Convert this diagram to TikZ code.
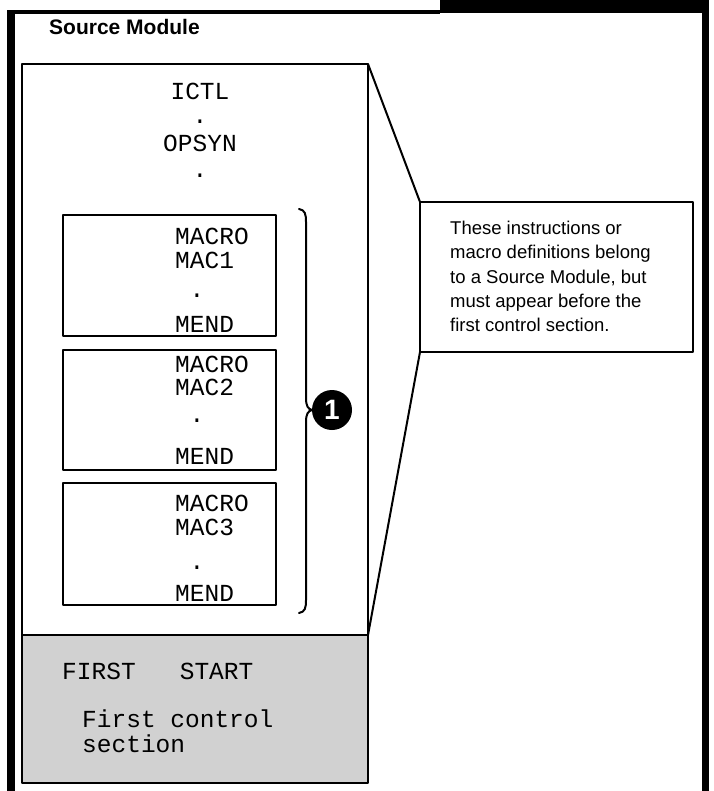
\documentclass[tikz,border=0pt]{standalone}
\usepackage{fontspec}
\setmainfont{Liberation Sans}
\setmonofont{Liberation Mono}
\begin{document}
\begin{tikzpicture}[x=1pt,y=-1pt,line cap=round,line join=round,
  box/.style={draw,line width=2pt,inner sep=0pt,outer sep=0pt,anchor=north west},
  code/.style={font=\ttfamily\fontsize{24.5}{29}\selectfont,inner sep=0pt},
  prose/.style={font=\fontsize{18.5}{24.2}\selectfont,inner sep=0pt,align=left}]

\useasboundingbox (0,0) rectangle (713,791);

% outer frame
\fill (7,10) rectangle (15,791);
\fill (7,10) rectangle (440,14);
\fill (440,0) rectangle (709,13);
\fill (702,0) rectangle (709,791);

\node[font=\bfseries\fontsize{21}{25}\selectfont,inner sep=0pt,anchor=base west]
  (title) at (49,35) {Source Module};

% source module (white part) and first control section (shaded)
\node[box,line width=2.5pt,minimum width=346pt,minimum height=571pt] (srcbox) at (22,64) {};
\node[box,line width=2.5pt,fill=black!18,minimum width=346pt,minimum height=148pt] (ctlsec) at (22,635) {};

% instructions ahead of the macros
\node[code,anchor=base] (ictl) at (200,100) {ICTL};
\node[code,anchor=base] (dota) at (200,124) {.};
\node[code,anchor=base] (opsyn) at (200,152) {OPSYN};
\node[code,anchor=base] (dotb) at (200,178) {.};

% macro definitions
\node[box,minimum width=213pt,minimum height=121pt] (mac1) at (63,215) {};
\node[box,minimum width=213pt,minimum height=120pt] (mac2) at (63,350) {};
\node[box,minimum width=213pt,minimum height=122pt] (mac3) at (63,483) {};

\node[code,anchor=base west] (m1a) at (175,244) {MACRO};
\node[code,anchor=base west] (m1b) at (175,269) {MAC1};
\node[code,anchor=base] (m1c) at (197,297) {.};
\node[code,anchor=base west] (m1d) at (175,332) {MEND};

\node[code,anchor=base west] (m2a) at (175,372) {MACRO};
\node[code,anchor=base west] (m2b) at (175,395) {MAC2};
\node[code,anchor=base] (m2c) at (197,422) {.};
\node[code,anchor=base west] (m2d) at (175,464) {MEND};

\node[code,anchor=base west] (m3a) at (175,511) {MACRO};
\node[code,anchor=base west] (m3b) at (175,535) {MAC3};
\node[code,anchor=base] (m3c) at (197,569) {.};
\node[code,anchor=base west] (m3d) at (175,601) {MEND};

% brace round the macros
\draw[line width=2pt] (299,209) .. controls (305,210) and (306,214) .. (306,222)
  -- (306,398) .. controls (306,406) and (308,409) .. (312,410)
  .. controls (308,411) and (306,414) .. (306,422)
  -- (306,600) .. controls (306,608) and (305,612) .. (299,613);
\node[circle,fill,minimum size=40pt,inner sep=0pt,text=white,
  font=\bfseries\fontsize{28}{28}\selectfont] (one) at (332,410) {1};

% first control section
\node[code,anchor=base west] (first) at (62,679) {FIRST\ \ \ START};
\node[code,anchor=base west] (fcs) at (82,727) {First control};
\node[code,anchor=base west] (sec) at (82,752) {section};

% note
\node[box,minimum width=273pt,minimum height=150pt] (note) at (420,202) {};
\node[prose,anchor=north west] (notetext) at (450,221) {These instructions or\\
macro definitions belong\\to a Source Module, but\\must appear before the\\
first control section.};

\draw[line width=2pt] (srcbox.north east) -- (note.north west);
\draw[line width=2pt] (note.south west) -- (srcbox.south east);

\end{tikzpicture}
\end{document}
